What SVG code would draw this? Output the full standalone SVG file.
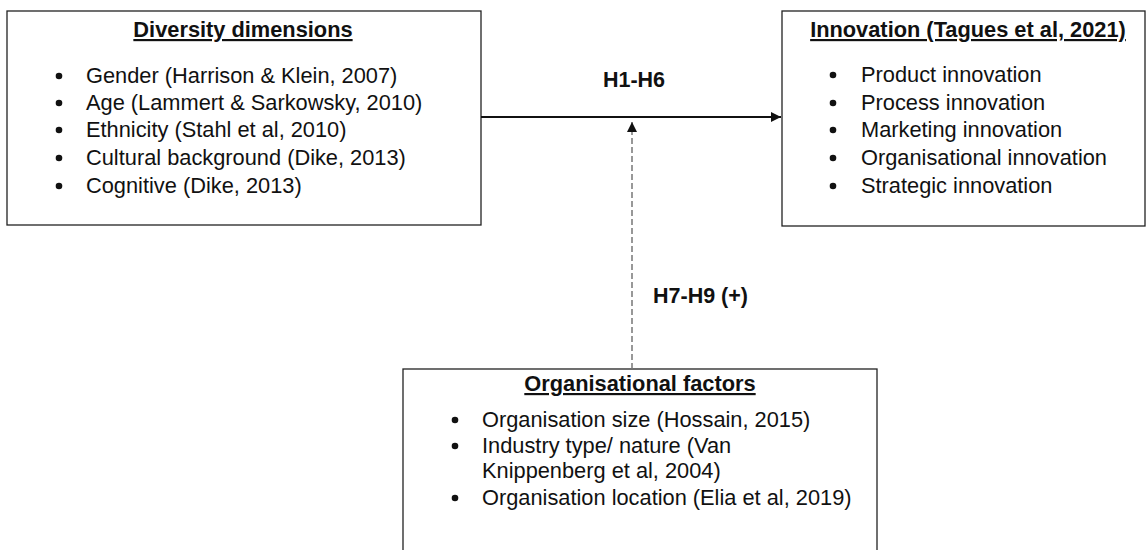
<svg xmlns="http://www.w3.org/2000/svg" width="1146" height="550" viewBox="0 0 1146 550">
<style>
.box{fill:#fff;stroke:#222;stroke-width:1.3}
.t{font-family:"Liberation Sans",Arial,sans-serif;font-size:21.8px;fill:#111}
.h{font-weight:bold;text-decoration:underline}
.lbl{font-family:"Liberation Sans",Arial,sans-serif;font-size:21.5px;font-weight:bold;fill:#111}
.dot{fill:#111}
</style>
<defs>
<marker id="ah" markerWidth="10" markerHeight="10" refX="10" refY="5" orient="auto" markerUnits="userSpaceOnUse">
<path d="M0,0 L10,5 L0,10 Z" fill="#111"/>
</marker>
</defs>
<rect width="1146" height="550" fill="#fff"/>
<g id="diversity">
<rect class="box" x="7" y="11" width="474" height="214"/>
<text class="t h" x="243" y="37" text-anchor="middle">Diversity dimensions</text>
<circle class="dot" cx="59" cy="76" r="3.3"/><text class="t" x="86" y="83">Gender (Harrison &amp; Klein, 2007)</text>
<circle class="dot" cx="59" cy="103" r="3.3"/><text class="t" x="86" y="110">Age (Lammert &amp; Sarkowsky, 2010)</text>
<circle class="dot" cx="59" cy="130" r="3.3"/><text class="t" x="86" y="137">Ethnicity (Stahl et al, 2010)</text>
<circle class="dot" cx="59" cy="158" r="3.3"/><text class="t" x="86" y="165">Cultural background (Dike, 2013)</text>
<circle class="dot" cx="59" cy="186" r="3.3"/><text class="t" x="86" y="193">Cognitive (Dike, 2013)</text>
</g>
<g id="innovation">
<rect class="box" x="782" y="11" width="363" height="215"/>
<text class="t h" x="968" y="37" text-anchor="middle">Innovation (Tagues et al, 2021)</text>
<circle class="dot" cx="833" cy="75" r="3.3"/><text class="t" x="861" y="82">Product innovation</text>
<circle class="dot" cx="833" cy="103" r="3.3"/><text class="t" x="861" y="110">Process innovation</text>
<circle class="dot" cx="833" cy="130" r="3.3"/><text class="t" x="861" y="137">Marketing innovation</text>
<circle class="dot" cx="833" cy="158" r="3.3"/><text class="t" x="861" y="165">Organisational innovation</text>
<circle class="dot" cx="833" cy="186" r="3.3"/><text class="t" x="861" y="193">Strategic innovation</text>
</g>
<g id="organisational">
<rect class="box" x="403" y="369" width="474" height="200"/>
<text class="t h" x="640" y="391" text-anchor="middle">Organisational factors</text>
<circle class="dot" cx="455" cy="420" r="3.3"/><text class="t" x="482" y="427">Organisation size (Hossain, 2015)</text>
<circle class="dot" cx="455" cy="446" r="3.3"/><text class="t" x="482" y="453">Industry type/ nature (Van</text>
<text class="t" x="482" y="478">Knippenberg et al, 2004)</text>
<circle class="dot" cx="455" cy="498" r="3.3"/><text class="t" x="482" y="505">Organisation location (Elia et al, 2019)</text>
</g>
<g id="connectors">
<line x1="481" y1="117" x2="781" y2="117" stroke="#111" stroke-width="2" marker-end="url(#ah)"/>
<line x1="632" y1="369" x2="632" y2="122" stroke="#777" stroke-width="1.5" stroke-dasharray="6,3" marker-end="url(#ah)"/>
<text class="lbl" x="634" y="87" text-anchor="middle">H1-H6</text>
<text class="lbl" x="653" y="303">H7-H9 (+)</text>
</g>
</svg>
